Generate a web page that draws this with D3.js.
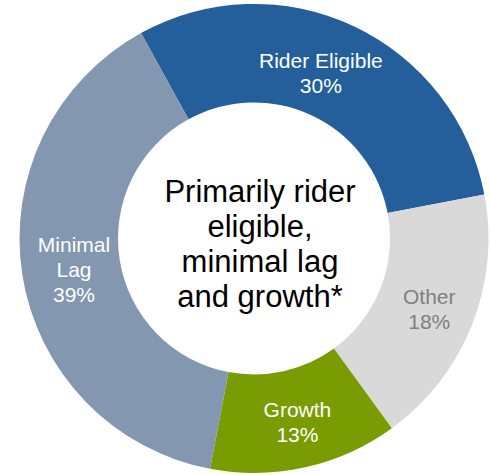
<!DOCTYPE html>
<html>
<head>
<meta charset="utf-8">
<script src="https://cdn.jsdelivr.net/npm/d3@7"></script>
<style>
  html, body { margin: 0; padding: 0; background: #ffffff; }
  svg { display: block; }
  text { font-family: "Liberation Sans", Arial, sans-serif; }
</style>
</head>
<body>
<svg id="chart" width="490" height="475"></svg>
<script>
// Portfolio split, clockwise from the upper-left edge of the ring
const categories = ["Rider Eligible", "Other", "Growth", "Minimal Lag"];
const labelLines = [["Rider Eligible"], ["Other"], ["Growth"], ["Minimal", "Lag"]];
const shares = [30, 18, 13, 39];
const centerLines = ["Primarily rider", "eligible,", "minimal lag", "and growth*"];

const sliceColors = ["#245F9B", "#D9D9D9", "#789C01", "#8397B0"];
const labelColors = ["#FFFFFF", "#808080", "#FFFFFF", "#FFFFFF"];

const W = 490, H = 475;
const cx = 254, cy = 238.5;
const outerR = 234.5, innerR = 136;
const startOffset = -28.8 * Math.PI / 180;

const svg = d3.select("#chart");
const g = svg.append("g").attr("transform", `translate(${cx},${cy})`);

const pie = d3.pie()
  .sort(null)
  .value(d => d.value)
  .startAngle(startOffset)
  .endAngle(startOffset + 2 * Math.PI);

const data = categories.map((c, i) => ({ name: c, value: shares[i], idx: i }));
const arcs = pie(data);

const arc = d3.arc().innerRadius(innerR).outerRadius(outerR);

g.selectAll("path.slice")
  .data(arcs)
  .join("path")
  .attr("class", "slice")
  .attr("d", arc)
  .attr("fill", d => sliceColors[d.data.idx]);

// Slice labels sit at the middle of the ring band
const labelNudge = [[-12, 0], [3, 0], [3, 0], [3, 0]];
const fontSize = 21, lineH = 25;

arcs.forEach(a => {
  const i = a.data.idx;
  const [mx, my] = arc.centroid(a);
  const lines = labelLines[i].concat([a.data.value + "%"]);
  const n = lines.length;
  const t = g.append("text")
    .attr("text-anchor", "middle")
    .attr("font-size", fontSize)
    .attr("fill", labelColors[i]);
  lines.forEach((s, k) => {
    t.append("tspan")
      .attr("x", mx + labelNudge[i][0])
      .attr("y", my + labelNudge[i][1] + (k - (n - 1) / 2) * lineH + 10)
      .text(s);
  });
});

// Caption in the hole of the ring
const ct = g.append("text")
  .attr("text-anchor", "middle")
  .attr("font-size", 31)
  .attr("fill", "#000000");
centerLines.forEach((s, k) => {
  ct.append("tspan")
    .attr("x", 6)
    .attr("y", (k - 1.5) * 35 + 15.7)
    .text(s);
});
</script>
</body>
</html>
